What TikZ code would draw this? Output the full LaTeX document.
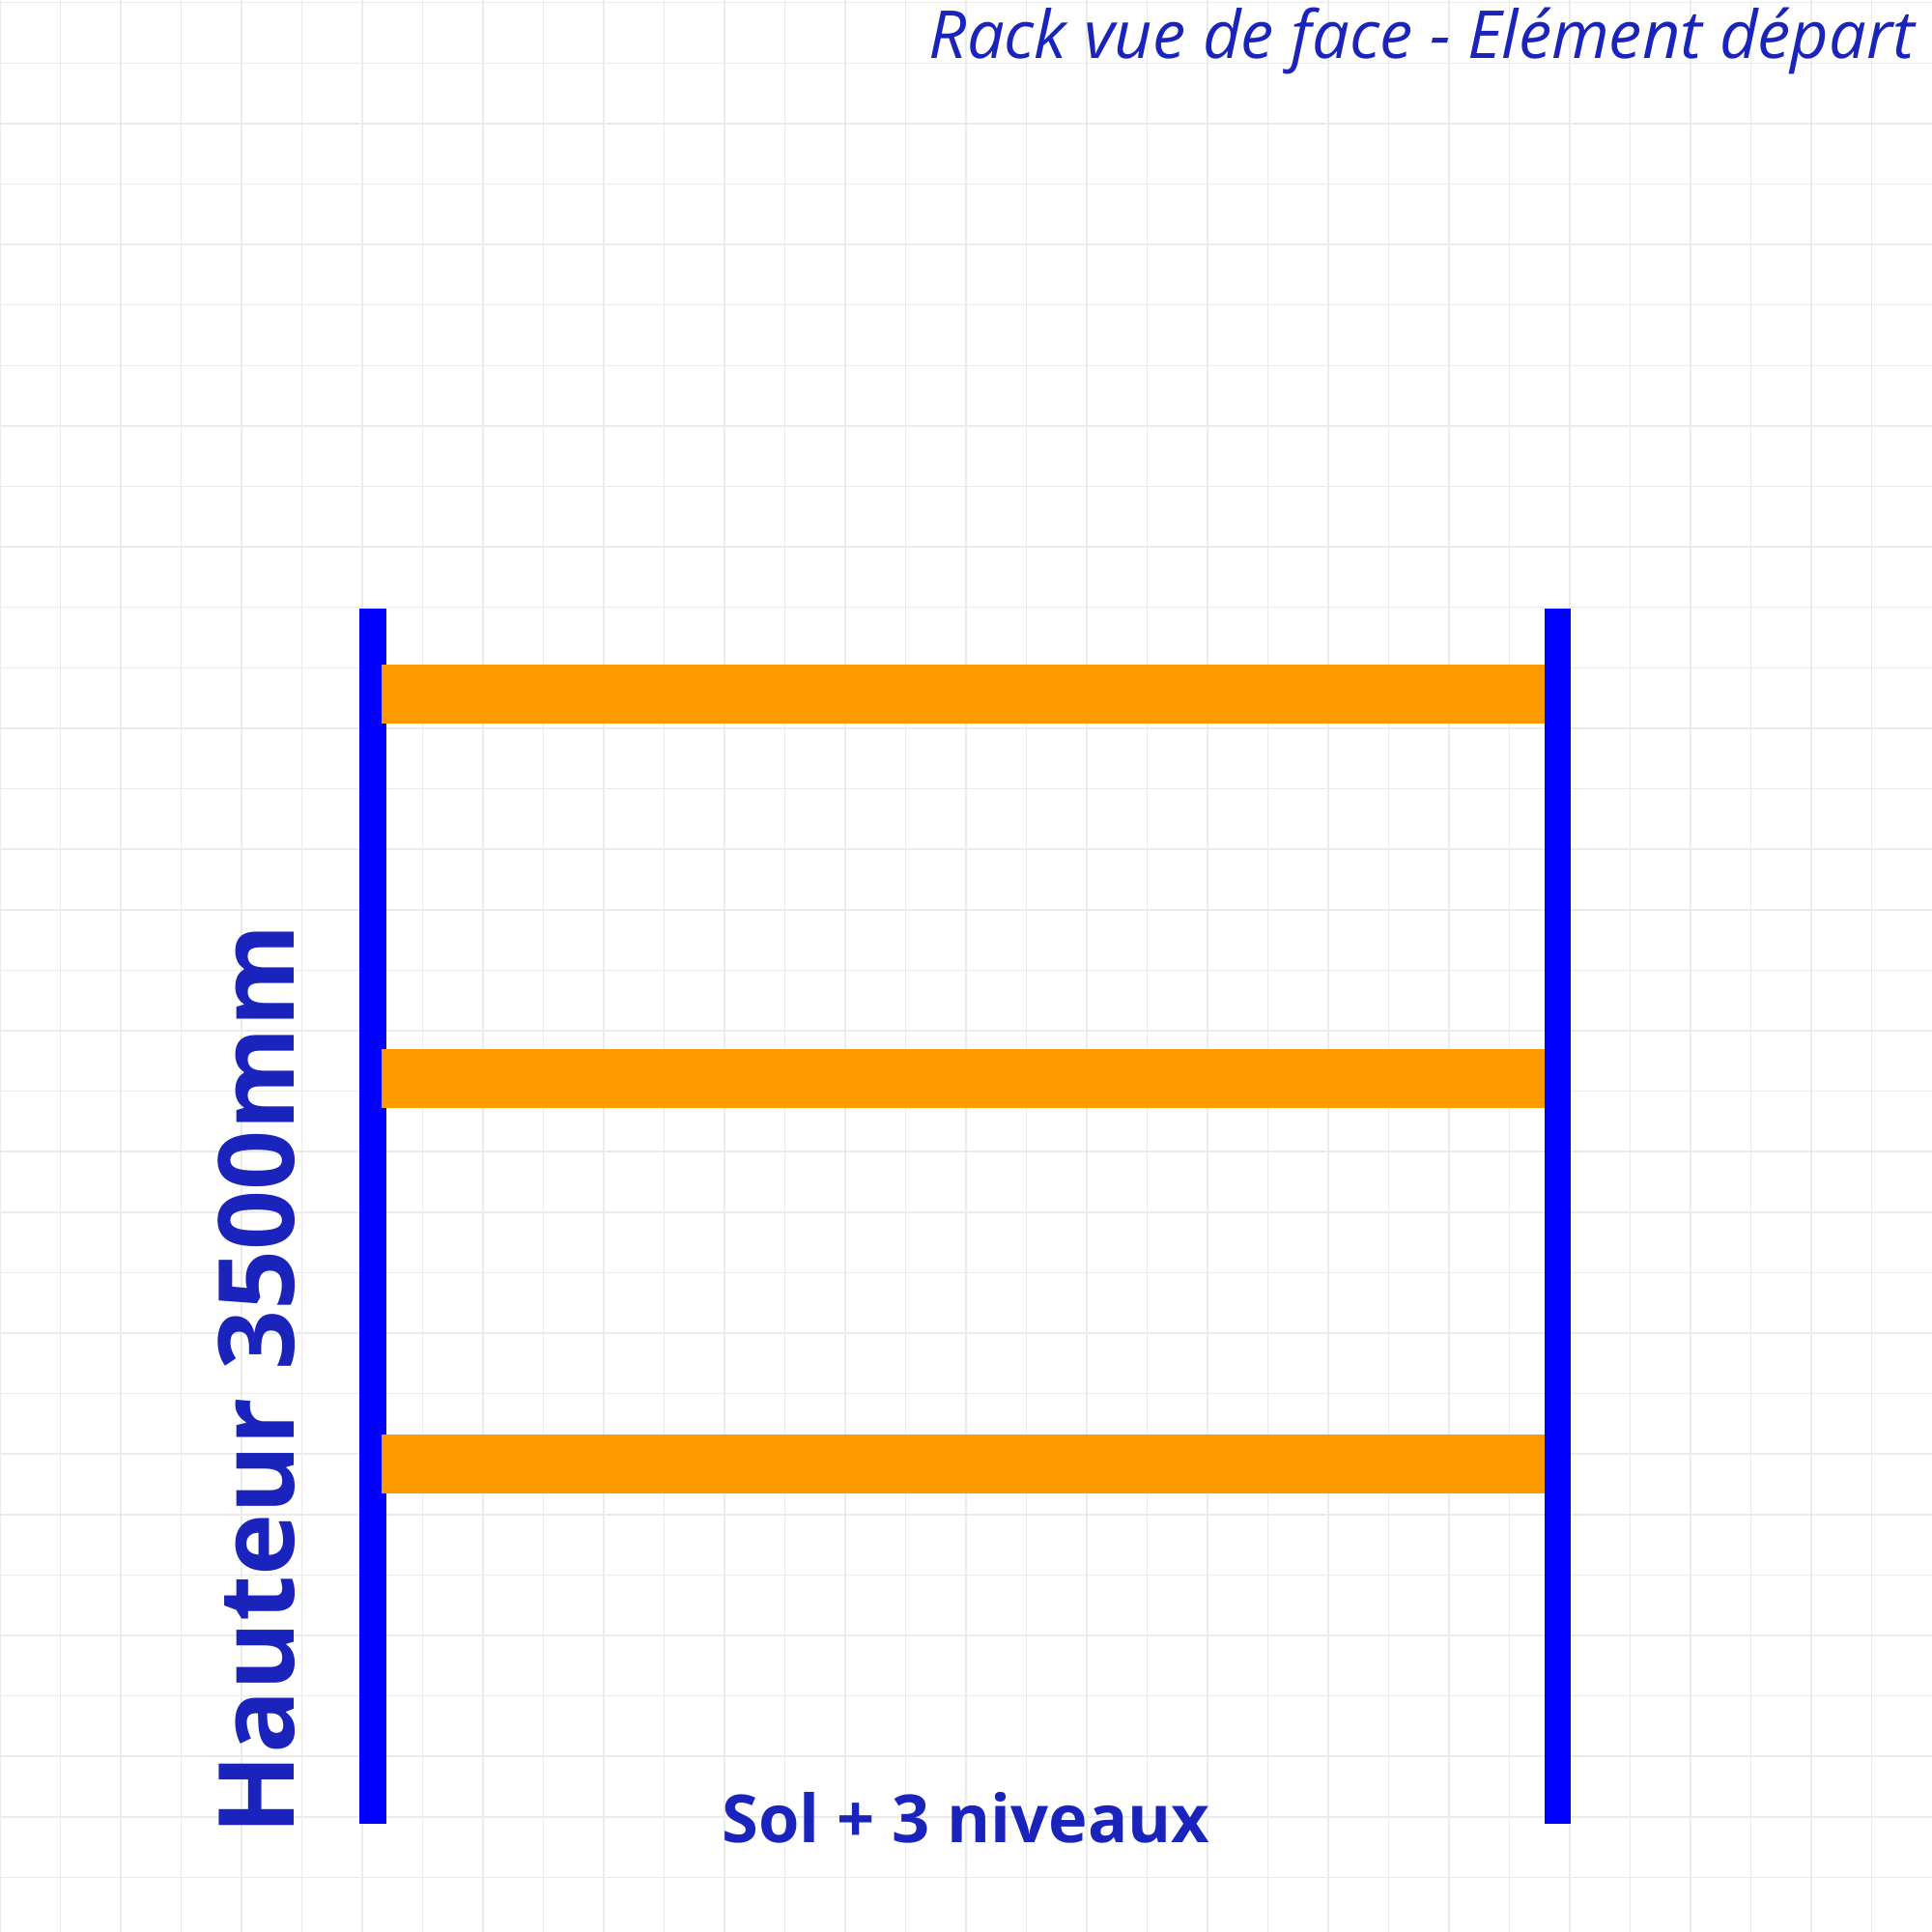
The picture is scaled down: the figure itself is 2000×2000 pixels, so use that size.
\documentclass[tikz,border=0pt]{standalone}
\usepackage{fontspec}
\setmainfont{Open Sans}
\definecolor{gridc}{HTML}{EBEBEB}
\definecolor{txtc}{HTML}{1A24BC}
\definecolor{beamc}{HTML}{FF9900}
\definecolor{uprc}{HTML}{0000FF}
\tikzset{
  gridline/.style={draw=gridc, line width=0.45pt},
  upright/.style={fill=uprc},
  beam/.style={fill=beamc},
  lbl/.style={text=txtc, inner sep=0pt, outer sep=0pt}
}
\begin{document}
\begin{tikzpicture}[x=0.01cm, y=-0.01cm]
\useasboundingbox (0,0) rectangle (2000,2000);
\fill[white] (0,0) rectangle (2000,2000);
% grid
\foreach \k in {0,...,31} {
  \draw[gridline] ({62.5*\k},0) -- ({62.5*\k},2000);
  \draw[gridline] (0,{2.7+62.6*\k}) -- (2000,{2.7+62.6*\k});
}
% uprights
\fill[upright] (372,630) rectangle (400,1888);
\fill[upright] (1599,630) rectangle (1626,1888);
% beams
\fill[beam] (395,688) rectangle (1599,749);
\fill[beam] (395,1086) rectangle (1599,1147);
\fill[beam] (395,1485) rectangle (1599,1546);
% texts
\node[lbl, anchor=base east, font=\itshape\fontsize{19.5pt}{23pt}\selectfont] (title) at (1982,61) {Rack vue de face - Elément départ};
\node[lbl, anchor=base, font=\bfseries\fontsize{19.5pt}{24pt}\selectfont] (sol) at (1000,1907) {Sol + 3 niveaux};
\node[lbl, anchor=base west, rotate=90, font=\bfseries\fontsize{30.9pt}{36pt}\selectfont] (haut) at (304,1899) {Hauteur 3500mm};
\end{tikzpicture}
\end{document}
